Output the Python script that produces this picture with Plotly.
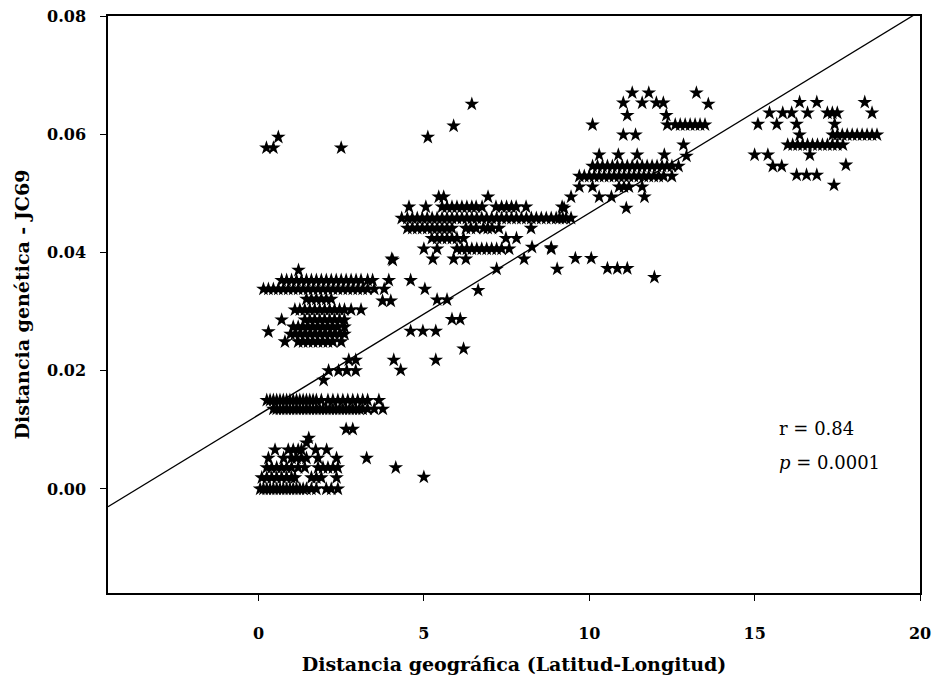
import plotly.graph_objects as go

# ---- data (x = geographic distance, y = JC69 genetic distance) ----
cluster_origin = [
    (0.05, 0.0), (0.15, 0.0), (0.25, 0.0), (0.35, 0.0), (0.45, 0.0), (0.55, 0.0), (0.65, 0.0),
    (0.75, 0.0), (0.85, 0.0), (0.95, 0.0), (1.05, 0.0), (1.15, 0.0), (1.25, 0.0), (1.35, 0.0),
    (1.45, 0.0), (1.6, 0.0), (1.75, 0.0), (2.05, 0.0), (2.2, 0.0), (2.4, 0.0),
    (0.1, 0.0019), (0.25, 0.0019), (0.4, 0.0019), (0.55, 0.0019), (0.7, 0.0019), (0.85, 0.0019),
    (1.0, 0.0019), (1.1, 0.0019), (1.6, 0.0019), (1.75, 0.0019), (1.9, 0.0019), (2.36, 0.0019),
    (0.25, 0.0036), (0.4, 0.0036), (0.55, 0.0036), (0.7, 0.0036), (0.85, 0.0036), (1.0, 0.0036),
    (1.2, 0.0036), (1.4, 0.0036), (1.8, 0.0036), (1.95, 0.0036), (2.1, 0.0036), (2.25, 0.0036),
    (2.4, 0.0036),
    (0.3, 0.0052), (0.76, 0.0052), (1.0, 0.0052), (1.15, 0.0052), (1.3, 0.0052), (1.45, 0.0052),
    (1.8, 0.0052), (2.36, 0.0052),
    (0.5, 0.0066), (0.9, 0.0066), (1.05, 0.0066), (1.2, 0.0066), (1.3, 0.0066), (1.73, 0.0066),
    (2.06, 0.0066),
    (1.45, 0.0078), (1.52, 0.0086),
    (3.27, 0.0052), (4.15, 0.0036), (5.0, 0.002),
    (2.65, 0.0101), (2.85, 0.0101),
]

cluster_low = [
    (0.25, 0.015), (0.35, 0.015), (0.45, 0.015), (0.55, 0.015), (0.65, 0.015), (0.75, 0.015),
    (0.85, 0.015), (0.95, 0.015), (1.05, 0.015), (1.15, 0.015), (1.25, 0.015), (1.35, 0.015),
    (1.45, 0.015), (1.55, 0.015), (1.65, 0.015), (1.75, 0.015), (1.9, 0.015), (2.1, 0.015),
    (2.25, 0.015), (2.4, 0.015), (2.55, 0.015), (2.7, 0.015), (2.85, 0.015), (3.0, 0.015),
    (3.15, 0.015), (3.3, 0.015), (3.64, 0.015),
    (0.45, 0.0135), (0.55, 0.0135), (0.65, 0.0135), (0.75, 0.0135), (0.85, 0.0135), (0.95, 0.0135),
    (1.05, 0.0135), (1.15, 0.0135), (1.25, 0.0135), (1.35, 0.0135), (1.45, 0.0135), (1.55, 0.0135),
    (1.65, 0.0135), (1.75, 0.0135), (1.85, 0.0135), (1.95, 0.0135), (2.05, 0.0135), (2.15, 0.0135),
    (2.25, 0.0135), (2.35, 0.0135), (2.45, 0.0135), (2.55, 0.0135), (2.65, 0.0135), (2.75, 0.0135),
    (2.85, 0.0135), (2.95, 0.0135), (3.05, 0.0135), (3.15, 0.0135), (3.3, 0.0135), (3.5, 0.0135),
    (3.76, 0.0135),
    (1.97, 0.0184), (2.12, 0.020), (2.42, 0.020), (2.67, 0.020), (2.94, 0.020),
    (2.73, 0.0218), (2.94, 0.0218), (4.09, 0.0218), (4.3, 0.0201), (5.36, 0.0218),
    (6.2, 0.0237),
]

cluster_mid = [
    (1.21, 0.037),
    (0.7, 0.0353), (0.85, 0.0353), (1.0, 0.0353), (1.15, 0.0353), (1.3, 0.0353), (1.45, 0.0353),
    (1.6, 0.0353), (1.75, 0.0353), (1.9, 0.0353), (2.05, 0.0353), (2.2, 0.0353), (2.35, 0.0353),
    (2.5, 0.0353), (2.65, 0.0353), (2.8, 0.0353), (2.95, 0.0353), (3.1, 0.0353), (3.3, 0.0353),
    (3.45, 0.0353), (3.94, 0.0353), (4.6, 0.0353),
    (0.15, 0.0338), (0.3, 0.0338), (0.45, 0.0338), (0.6, 0.0338), (0.75, 0.0338), (0.9, 0.0338),
    (1.05, 0.0338), (1.2, 0.0338), (1.35, 0.0338), (1.5, 0.0338), (1.65, 0.0338), (1.8, 0.0338),
    (1.95, 0.0338), (2.1, 0.0338), (2.25, 0.0338), (2.4, 0.0338), (2.55, 0.0338), (2.7, 0.0338),
    (2.85, 0.0338), (3.0, 0.0338), (3.15, 0.0338), (3.3, 0.0338), (3.5, 0.0338), (3.8, 0.0338),
    (5.03, 0.0338), (6.64, 0.0336),
    (1.45, 0.0321), (1.6, 0.0321), (1.75, 0.0321), (1.9, 0.0321), (2.05, 0.0321), (2.2, 0.0321),
    (3.75, 0.0318), (4.0, 0.0318), (5.4, 0.032), (5.7, 0.032),
    (1.1, 0.0303), (1.25, 0.0303), (1.4, 0.0303), (1.55, 0.0303), (1.7, 0.0303), (1.85, 0.0303),
    (2.0, 0.0303), (2.15, 0.0303), (2.3, 0.0303), (2.45, 0.0303), (2.6, 0.0303), (2.8, 0.0303),
    (3.1, 0.0303),
    (0.7, 0.0286), (1.4, 0.0286), (1.55, 0.0286), (1.7, 0.0286), (1.85, 0.0286), (2.0, 0.0286),
    (2.15, 0.0286), (2.3, 0.0286), (2.45, 0.0286), (2.6, 0.0286),
    (1.05, 0.0274), (1.2, 0.0274), (1.35, 0.0274), (1.5, 0.0274), (1.65, 0.0274), (1.8, 0.0274),
    (1.95, 0.0274), (2.1, 0.0274), (2.25, 0.0274), (2.4, 0.0274), (2.6, 0.0274),
    (0.3, 0.0266),
    (0.97, 0.0262), (1.1, 0.0262), (1.25, 0.0262), (1.4, 0.0262), (1.55, 0.0262), (1.7, 0.0262),
    (1.85, 0.0262), (2.0, 0.0262), (2.15, 0.0262), (2.3, 0.0262), (2.45, 0.0262), (2.6, 0.0262),
    (0.8, 0.0249), (1.2, 0.0249), (1.35, 0.0249), (1.5, 0.0249), (1.65, 0.0249), (1.8, 0.0249),
    (1.95, 0.0249), (2.1, 0.0249), (2.25, 0.0249), (2.5, 0.0249),
    (4.6, 0.0267), (4.97, 0.0267), (5.36, 0.0267), (5.85, 0.0287), (6.1, 0.0287),
    (4.06, 0.0387), (7.2, 0.0372),
]

cluster_upper = [
    (5.45, 0.0494), (5.6, 0.0494), (6.94, 0.0494), (9.45, 0.0494),
    (4.55, 0.0477), (5.06, 0.0477), (5.55, 0.0477), (5.7, 0.0477), (5.85, 0.0477), (6.0, 0.0477),
    (6.15, 0.0477), (6.3, 0.0477), (6.45, 0.0477), (6.58, 0.0477), (6.76, 0.0477), (7.18, 0.0477),
    (7.35, 0.0477), (7.5, 0.0477), (7.65, 0.0477), (7.79, 0.0477), (8.09, 0.0477), (9.18, 0.0477),
    (4.33, 0.0458), (4.5, 0.0458), (4.65, 0.0458), (4.8, 0.0458), (4.95, 0.0458), (5.1, 0.0458),
    (5.25, 0.0458), (5.4, 0.0458), (5.55, 0.0458), (5.7, 0.0458), (5.85, 0.0458), (6.0, 0.0458),
    (6.15, 0.0458), (6.3, 0.0458), (6.45, 0.0458), (6.6, 0.0458), (6.75, 0.0458), (6.9, 0.0458),
    (7.05, 0.0458), (7.2, 0.0458), (7.35, 0.0458), (7.5, 0.0458), (7.65, 0.0458), (7.8, 0.0458),
    (7.95, 0.0458), (8.1, 0.0458), (8.25, 0.0458), (8.4, 0.0458), (8.55, 0.0458), (8.7, 0.0458),
    (8.85, 0.0458), (9.0, 0.0458), (9.1, 0.0458), (9.2, 0.0458), (9.3, 0.0458), (9.45, 0.0458),
    (4.5, 0.0441), (4.65, 0.0441), (4.8, 0.0441), (4.95, 0.0441), (5.1, 0.0441), (5.25, 0.0441),
    (5.4, 0.0441), (5.55, 0.0441), (5.7, 0.0441), (5.85, 0.0441), (6.27, 0.0441), (6.42, 0.0441),
    (6.58, 0.0441), (6.8, 0.0441), (6.93, 0.0441), (7.06, 0.0441), (7.27, 0.0441), (8.24, 0.0441),
    (5.24, 0.0424), (5.4, 0.0424), (5.55, 0.0424), (5.7, 0.0424), (5.85, 0.0424), (6.0, 0.0424),
    (6.2, 0.0424), (7.48, 0.0424), (7.8, 0.0424),
    (5.0, 0.0406), (5.4, 0.0406), (6.0, 0.0406), (6.15, 0.0406), (6.3, 0.0406), (6.45, 0.0406),
    (6.6, 0.0406), (6.75, 0.0406), (6.9, 0.0406), (7.05, 0.0406), (7.2, 0.0406), (7.35, 0.0406),
    (7.58, 0.0406), (8.27, 0.0409), (8.85, 0.0406),
    (4.03, 0.0389), (5.27, 0.0389), (5.9, 0.0389), (6.27, 0.0389), (8.03, 0.0389),
    (9.03, 0.0372),
]

cluster_high = [
    (11.3, 0.067), (11.8, 0.067), (13.24, 0.067),
    (11.03, 0.0653), (11.6, 0.0653), (12.03, 0.0653), (12.24, 0.0653), (13.6, 0.0651),
    (11.15, 0.0632), (12.33, 0.0632),
    (10.1, 0.0616), (12.36, 0.0616), (12.6, 0.0616), (12.75, 0.0616), (12.9, 0.0616),
    (13.05, 0.0616), (13.2, 0.0616), (13.35, 0.0616), (13.5, 0.0616),
    (11.03, 0.0599), (11.4, 0.0599), (12.85, 0.0582), (12.94, 0.0563),
    (10.3, 0.0565), (10.88, 0.0565), (11.45, 0.0565), (12.27, 0.0565),
    (10.1, 0.0546), (10.25, 0.0546), (10.4, 0.0546), (10.55, 0.0546), (10.7, 0.0546),
    (10.85, 0.0546), (11.0, 0.0546), (11.15, 0.0546), (11.3, 0.0546), (11.45, 0.0546),
    (11.6, 0.0546), (11.75, 0.0546), (11.9, 0.0546), (12.05, 0.0546), (12.2, 0.0546),
    (12.35, 0.0546), (12.5, 0.0546), (12.7, 0.0546),
    (9.7, 0.0529), (9.85, 0.0529), (10.0, 0.0529), (10.15, 0.0529), (10.3, 0.0529), (10.45, 0.0529),
    (10.6, 0.0529), (10.75, 0.0529), (10.9, 0.0529), (11.05, 0.0529), (11.2, 0.0529), (11.35, 0.0529),
    (11.5, 0.0529), (11.65, 0.0529), (11.8, 0.0529), (11.95, 0.0529), (12.1, 0.0529), (12.25, 0.0529),
    (12.5, 0.0529),
    (9.7, 0.0511), (10.1, 0.0511), (10.9, 0.0511), (11.05, 0.0511), (11.2, 0.0511), (11.6, 0.0511),
    (10.3, 0.0494), (10.67, 0.0494), (11.67, 0.0494),
    (9.24, 0.0475), (11.12, 0.0475),
    (8.85, 0.0408), (9.58, 0.039), (10.06, 0.039),
    (10.55, 0.0373), (10.85, 0.0373), (11.15, 0.0373), (11.97, 0.0358),
]

cluster_far = [
    (16.36, 0.0654), (16.88, 0.0654), (18.33, 0.0654),
    (15.45, 0.0636), (15.85, 0.0636), (16.12, 0.0636), (16.6, 0.0636), (17.2, 0.0636),
    (17.35, 0.0636), (17.5, 0.0636), (18.55, 0.0636),
    (15.1, 0.0617), (15.67, 0.0617), (16.27, 0.0617), (17.42, 0.0617),
    (16.36, 0.0599), (17.36, 0.0599), (17.5, 0.0599), (17.65, 0.0599), (17.8, 0.0599),
    (17.95, 0.0599), (18.1, 0.0599), (18.25, 0.0599), (18.4, 0.0599), (18.55, 0.0599), (18.7, 0.0599),
    (16.0, 0.0582), (16.15, 0.0582), (16.3, 0.0582), (16.45, 0.0582), (16.6, 0.0582), (16.75, 0.0582),
    (16.9, 0.0582), (17.05, 0.0582), (17.2, 0.0582), (17.35, 0.0582), (17.5, 0.0582), (17.67, 0.0582),
    (15.0, 0.0565), (15.4, 0.0565), (16.67, 0.0565),
    (15.55, 0.0546), (15.82, 0.0546), (17.76, 0.0548),
    (16.27, 0.0531), (16.57, 0.0531), (16.88, 0.0531),
    (17.4, 0.0514),
]

outliers_top = [
    (0.24, 0.0577), (0.45, 0.0577), (0.6, 0.0595), (2.5, 0.0577),
    (5.12, 0.0595), (5.9, 0.0614), (6.45, 0.0651),
]

# regression line (intercept, slope) and x extent
fit_intercept = 0.01253
fit_slope = 0.003413
line_x = [-4.55, 20.0]

x_ticks = [0, 5, 10, 15, 20]
y_ticks = [0.0, 0.02, 0.04, 0.06, 0.08]
x_range = [-4.55, 20.0]
y_range = [-0.0176, 0.08]

stat_r = "r = 0.84"
stat_p = "<i>p</i> = 0.0001"
x_title = "Distancia geográfica (Latitud-Longitud)"
y_title = "Distancia genética - JC69"

# ---- figure ----
all_points = (cluster_origin + cluster_low + cluster_mid + cluster_upper
              + cluster_high + cluster_far + outliers_top)
px_ = [p[0] for p in all_points]
py_ = [p[1] for p in all_points]

FONT = "DejaVu Serif"

fig = go.Figure()
fig.add_trace(go.Scatter(
    x=line_x, y=[fit_intercept + fit_slope * v for v in line_x],
    mode="lines", line=dict(color="black", width=1.3), showlegend=False, cliponaxis=True,
))
fig.add_trace(go.Scatter(
    x=px_, y=py_, mode="markers",
    marker=dict(symbol="star", size=11, color="black", line=dict(width=0)),
    showlegend=False,
))

fig.add_annotation(x=15.67, y=0.0103, text=stat_r, showarrow=False, xanchor="left",
                   font=dict(family=FONT, size=18, color="black"))
fig.add_annotation(x=15.67, y=0.0044, text=stat_p, showarrow=False, xanchor="left",
                   font=dict(family=FONT, size=18, color="black"))

fig.update_layout(
    width=933, height=681,
    margin=dict(l=108, r=13, t=16, b=88, autoexpand=False),
    paper_bgcolor="white", plot_bgcolor="white",
    font=dict(family=FONT, color="black"),
    showlegend=False,
)
fig.update_xaxes(
    range=x_range, tickvals=x_ticks, ticktext=[str(v) for v in x_ticks],
    showgrid=False, zeroline=False, automargin=False,
    showline=True, linecolor="black", linewidth=1.5, mirror=True,
    ticks="outside", ticklen=6, tickwidth=1, tickcolor="black",
    ticklabelstandoff=19, ticklabeloverflow="allow",
    tickfont=dict(family=FONT, size=16, color="black", weight="bold"),
    title=dict(text=x_title, standoff=16,
               font=dict(family=FONT, size=19, color="black", weight="bold")),
)
fig.update_yaxes(
    range=y_range, tickvals=y_ticks, ticktext=[f"{v:.2f}" for v in y_ticks],
    showgrid=False, zeroline=False, automargin=False,
    showline=True, linecolor="black", linewidth=1.5, mirror=True,
    ticks="outside", ticklen=6, tickwidth=1, tickcolor="black",
    ticklabelstandoff=11, ticklabeloverflow="allow",
    tickfont=dict(family=FONT, size=16, color="black", weight="bold"),
    title=dict(text=y_title, standoff=12,
               font=dict(family=FONT, size=19, color="black", weight="bold")),
)

# place the 933x681 figure flush with the window's top-left corner, no modebar
fig.write_html("out.html", config={"displayModeBar": False},
               post_script="document.body.style.margin='0';")
